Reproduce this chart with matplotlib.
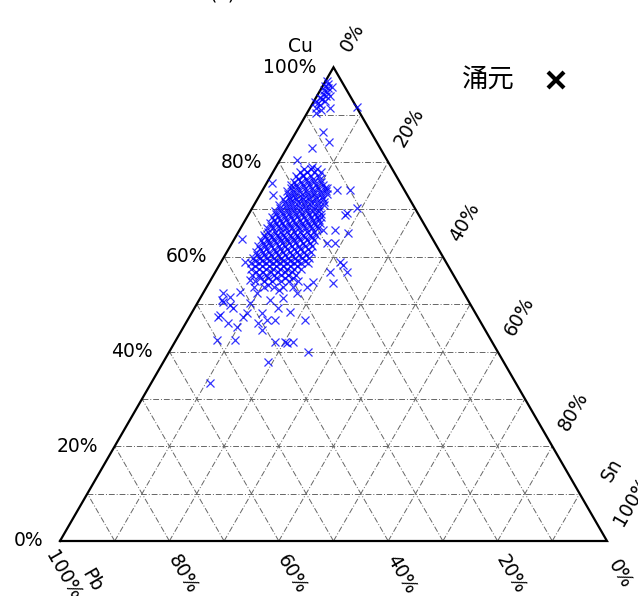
import numpy as np
import matplotlib
matplotlib.use("Agg")
import matplotlib.pyplot as plt

plt.rcParams['font.family'] = ['DejaVu Sans']

# compositions in wt% -- Cu and Sn, Pb is the remainder
top_cu = [97.0, 96.5, 96.0, 95.6, 95.2, 94.8, 94.4, 94.0, 93.6, 93.2, 92.8, 92.4,
          92.0, 91.5, 91.0, 90.4, 95.8, 93.9, 92.6, 91.4, 91.6, 86.3, 84.2, 82.9, 80.4]
top_sn = [0.3, 0.8, 0.5, 1.2, 0.6, 1.4, 0.9, 1.6, 0.7, 1.3, 2.0, 0.9,
          1.5, 1.1, 2.2, 1.6, 1.8, 2.4, 0.4, 3.7, 8.5, 4.9, 7.1, 4.6, 3.1]

upper_cu = [78.9, 77.2, 75.5, 74.1, 74.5, 74.1, 73.0, 70.3, 68.8, 69.2, 65.0, 65.6,
            65.6, 62.9, 62.9, 63.7, 58.9, 58.2, 58.9, 56.8, 56.8, 54.4, 54.6, 53.6]
upper_sn = [6.7, 5.8, 1.0, 13.6, 11.6, 16.0, 2.4, 19.2, 17.7, 17.9, 20.2, 17.5,
            15.3, 18.8, 17.4, 1.4, 4.4, 22.6, 21.7, 21.0, 24.1, 22.7, 19.0, 18.4]

lower_cu = [51.5, 50.8, 47.7, 42.4, 42.4, 46.0, 45.1, 47.3, 46.0, 48.1, 46.6, 49.2,
            48.3, 46.6, 42.0, 42.0, 42.0, 44.5, 50.2, 50.8, 51.3, 52.3, 52.3, 52.5,
            52.3, 49.2, 48.1, 46.6, 41.8, 39.9, 37.8, 33.3, 55.1, 54.0, 53.0, 50.4,
            49.8, 47.3]
lower_sn = [5.3, 4.2, 5.4, 7.5, 10.8, 7.7, 9.8, 9.8, 13.2, 12.9, 16.0, 15.3,
            17.9, 21.5, 18.3, 20.1, 21.6, 14.7, 9.6, 13.0, 15.1, 17.2, 3.7, 6.7,
            9.9, 7.0, 10.2, 14.5, 20.6, 25.4, 19.1, 10.7, 7.2, 11.0, 13.5, 4.6,
            6.2, 5.2]

# dense core, one Cu level per row
core_cu = [78.5, 77.0, 75.8, 74.6, 73.3, 72.1, 70.9, 69.6, 68.4, 67.2, 66.0,
           64.7, 63.5, 62.3, 61.1, 59.8, 58.6, 57.4, 56.1, 54.9, 53.7]
core_sn = [
    [5.4, 6.6, 7.8],
    [4.6, 6.0, 7.4, 8.8],
    [4.9, 6.2, 7.4, 8.6, 9.8],
    [4.9, 6.2, 7.4, 8.7, 9.9, 11.2],
    [5.1, 6.2, 7.5, 8.7, 9.8, 11.0, 12.2],
    [4.8, 6.0, 7.1, 8.4, 9.5, 10.7, 12.0],
    [4.6, 5.8, 7.0, 8.1, 9.3, 10.5, 11.8, 12.9],
    [4.5, 5.6, 6.8, 7.9, 9.1, 10.3, 11.4, 12.6],
    [4.6, 5.7, 6.9, 8.0, 9.2, 10.4, 11.6, 12.8, 13.5],
    [4.7, 5.9, 7.0, 8.2, 9.3, 10.6, 11.7, 12.9, 14.0],
    [4.8, 6.0, 7.2, 8.3, 9.5, 10.7, 11.9, 13.1, 14.2],
    [4.9, 6.1, 7.3, 8.5, 9.7, 10.9, 12.1, 13.3, 14.5],
    [5.0, 6.2, 7.4, 8.6, 9.8, 11.0, 12.2, 13.4, 14.6],
    [5.0, 6.3, 7.5, 8.8, 10.0, 11.2, 12.5, 13.7, 15.0],
    [5.2, 6.5, 7.7, 9.0, 10.2, 11.5, 12.7, 14.0, 15.3],
    [5.4, 6.7, 8.0, 9.2, 10.5, 11.8, 13.1, 14.4, 15.6],
    [5.7, 7.0, 8.3, 9.6, 10.9, 12.2, 13.5, 14.8, 16.0],
    [6.3, 7.6, 8.9, 10.2, 11.5, 12.8, 14.1, 15.4],
    [7.0, 8.4, 9.7, 11.0, 12.4, 13.7, 15.1],
    [8.2, 9.8, 11.3, 12.9, 14.4, 16.0],
    [8.6, 10.4, 12.2, 14.0, 15.8],
]
core2_cu = [77.8, 76.4, 75.2, 73.9, 72.7, 71.5, 70.2, 69.0, 67.8, 66.6,
            65.3, 64.1, 62.9, 61.7, 60.4, 59.2, 58.0, 56.8, 55.5]
core2_sn = [
    [5.0, 6.3, 7.6, 8.9],
    [5.3, 6.7, 8.1, 9.4],
    [4.6, 5.6, 6.8, 8.0, 9.2, 10.5],
    [4.6, 5.6, 6.8, 8.1, 9.3, 10.6, 11.7],
    [5.5, 6.7, 7.9, 9.1, 10.4, 11.6],
    [5.3, 6.5, 7.7, 8.9, 10.1, 11.3, 12.5],
    [5.2, 6.4, 7.5, 8.7, 9.9, 11.1, 12.3],
    [5.0, 6.2, 7.4, 8.6, 9.8, 11.0, 12.2, 13.2],
    [5.2, 6.3, 7.5, 8.7, 9.9, 11.0, 12.3, 13.4],
    [5.3, 6.5, 7.6, 8.8, 10.0, 11.2, 12.4, 13.6],
    [5.4, 6.6, 7.8, 8.9, 10.1, 11.3, 12.5, 13.8],
    [5.5, 6.7, 7.9, 9.1, 10.3, 11.5, 12.7, 14.0],
    [5.6, 6.8, 8.0, 9.2, 10.4, 11.6, 12.9, 14.2],
    [5.7, 6.9, 8.2, 9.4, 10.6, 11.9, 13.1, 14.4],
    [5.8, 7.1, 8.4, 9.6, 10.9, 12.2, 13.5, 14.8],
    [6.1, 7.4, 8.6, 9.9, 11.2, 12.5, 13.8, 15.1],
    [6.6, 7.9, 9.2, 10.5, 11.8, 13.1, 14.4],
    [7.4, 8.7, 10.1, 11.4, 12.7, 14.0],
    [8.8, 10.3, 11.8, 13.4, 14.9],
]

ticks = [0, 20, 40, 60, 80, 100]
grid_levels = [10, 20, 30, 40, 50, 60, 70, 80, 90]
series_label = '涌元'


def tern(cu, sn):
    cu = np.asarray(cu, dtype=float) / 100
    sn = np.asarray(sn, dtype=float) / 100
    return sn + cu / 2, cu * np.sqrt(3) / 2


fig = plt.figure(figsize=(6.38, 5.96), dpi=100)
ax = fig.add_axes([0, 0, 1, 1])
ax.set_xlim(-60 / 547, 578 / 547)
ax.set_ylim(-55 / 547, 541 / 547)
ax.axis('off')

# grid, dash-dot every 10%
gkw = dict(color='#666666', lw=0.7, ls=(0, (6, 2, 1, 2)), zorder=1)
for k in grid_levels:
    ax.plot(*tern([k, k], [0, 100 - k]), **gkw)          # Cu const
    ax.plot(*tern([0, 100 - k], [k, k]), **gkw)          # Sn const
    ax.plot(*tern([0, 100 - k], [100 - k, 0]), **gkw)    # Pb const

# outline
ax.plot(*tern([0, 100, 0, 0], [0, 0, 100, 0]), color='black', lw=1.6,
        zorder=3, solid_joinstyle='miter')

# data
mkw = dict(ls='none', marker='x', ms=5.5, mew=0.9, color='blue', alpha=0.8,
           zorder=4)
ax.plot(*tern(top_cu, top_sn), **mkw)
ax.plot(*tern(upper_cu, upper_sn), **mkw)
ax.plot(*tern(lower_cu, lower_sn), **mkw)
for c, row in zip(core_cu + core2_cu, core_sn + core2_sn):
    ax.plot(*tern([c] * len(row), row), **mkw)

fs = 13.5
# Cu (left edge)
for t in ticks:
    ax.annotate(f"{t}%", tern(t, 0), xytext=(-17, 0), textcoords='offset pixels',
                ha='right', va='center', fontsize=fs)
ax.annotate("Cu", tern(100, 0), xytext=(-33, 21), textcoords='offset pixels',
            ha='center', va='center', fontsize=fs)
# Pb (bottom edge)
for t in ticks:
    off = (3, -34) if t == 100 else (13, -33)
    ax.annotate(f"{t}%", tern(0, 100 - t), xytext=off,
                textcoords='offset pixels', ha='center', va='center',
                rotation=-60, fontsize=fs)
ax.annotate("Pb", tern(0, 0), xytext=(32, -39), textcoords='offset pixels',
            ha='center', va='center', rotation=-60, fontsize=fs)
# Sn (right edge)
for t in ticks:
    ax.annotate(f"{t}%", tern(100 - t, t), xytext=(11, 17),
                textcoords='offset pixels', ha='left', va='center',
                rotation=60, rotation_mode='anchor', fontsize=fs)
ax.annotate("Sn", tern(0, 100), xytext=(5, 71), textcoords='offset pixels',
            ha='center', va='center', rotation=60, fontsize=fs)

# legend
fig.text(488 / 638, 1 - 80 / 596, series_label, ha='center', va='center',
         fontsize=19, family=['Noto Sans CJK SC', 'DejaVu Sans'])
ax.plot([556 / 638], [1 - 80 / 596], transform=fig.transFigure, marker='x',
        ms=11, mew=3, color='black', ls='none')

# panel tag, mostly outside the canvas as in the source
fig.text(222 / 638, 1 + 1 / 596, "(a)", ha='center', va='baseline', fontsize=fs)

fig.savefig("out.png", dpi=100)
